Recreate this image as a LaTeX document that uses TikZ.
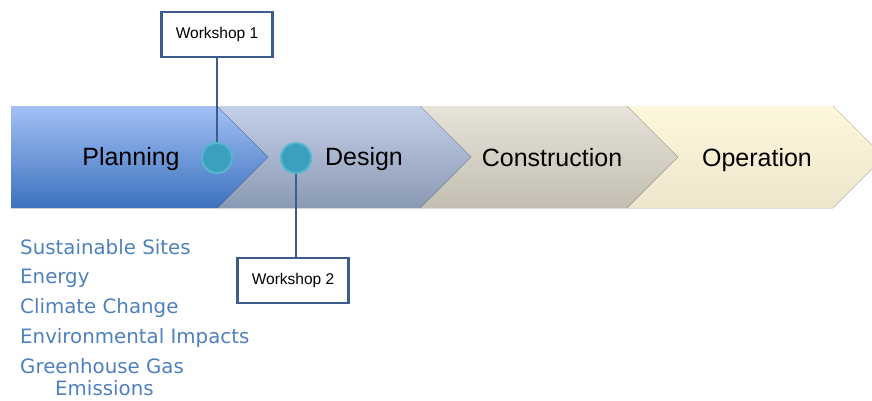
\documentclass[tikz,border=0pt]{standalone}
\usepackage{fontspec}
\setmainfont{Liberation Sans}
\newfontfamily\listfont{DejaVu Sans}
\definecolor{pTop}{HTML}{A2C0F5}
\definecolor{pBot}{HTML}{3D72BE}
\definecolor{dTop}{HTML}{C4D0E9}
\definecolor{dBot}{HTML}{8A99B3}
\definecolor{cTop}{HTML}{E7E3D9}
\definecolor{cBot}{HTML}{C3BEB1}
\definecolor{oTop}{HTML}{FDF7DC}
\definecolor{oBot}{HTML}{EEE6CC}
\definecolor{dotFill}{HTML}{3AA0BE}
\definecolor{dotRim}{HTML}{55B6CC}
\definecolor{lineBlue}{HTML}{3A5D8C}
\definecolor{listBlue}{HTML}{4F81BD}
\tikzset{
  stagelabel/.style={anchor=base, font=\fontsize{25}{30}\selectfont, text=black, inner sep=0pt},
  wsbox/.style={draw=lineBlue, line width=2.6pt, fill=white, minimum width=111pt, minimum height=45pt, inner sep=0pt, font=\fontsize{15.5}{18}\selectfont},
  dot/.style={circle, fill=dotFill, draw=dotRim, line width=2pt, minimum size=30pt, inner sep=0pt},
  link/.style={draw=lineBlue, line width=2.6pt},
  listitem/.style={anchor=base west, inner sep=0pt, text=listBlue, font=\listfont\fontsize{19.8}{22}\selectfont}
}
\begin{document}
\begin{tikzpicture}[x=1pt,y=-1pt]
\useasboundingbox (0,0) rectangle (872,400);
\begin{scope}
\clip (0,0) rectangle (872,400);
% chevrons
\fill[top color=oTop, bottom color=oBot] (627,106) -- (833,106) -- (884,157) -- (833,208) -- (627,208) -- (678,157) -- cycle;
\fill[top color=cTop, bottom color=cBot] (420,106) -- (627,106) -- (678,157) -- (627,208) -- (420,208) -- (471,157) -- cycle;
\fill[top color=dTop, bottom color=dBot] (217,106) -- (420,106) -- (471,157) -- (420,208) -- (217,208) -- (268,157) -- cycle;
\fill[top color=pTop, bottom color=pBot] (11,106) -- (217,106) -- (268,157) -- (217,208) -- (11,208) -- cycle;
\end{scope}
% stage labels
\node[stagelabel] (plan) at (131,165) {Planning};
\node[stagelabel] (des) at (364,165) {Design};
\node[stagelabel] (con) at (552,166) {Construction};
\node[stagelabel] (op) at (757,166) {Operation};
% workshops and markers
\node[wsbox] (w1) at (217,34.5) {Workshop 1};
\node[wsbox] (w2) at (293,280.5) {Workshop 2};
\node[dot] (c1) at (217,158) {};
\node[dot] (c2) at (296,158) {};
\draw[link] (w1.south) -- (c1.north);
\draw[link] (c2.south) -- (c2.south |- w2.north);
% list
\node[listitem] (l1) at (20,254) {Sustainable Sites};
\node[listitem] (l2) at (20,283) {Energy};
\node[listitem] (l3) at (20,313) {Climate Change};
\node[listitem] (l4) at (20,343) {Environmental Impacts};
\node[listitem] (l5) at (20,373) {Greenhouse Gas};
\node[listitem] (l6) at (55,395) {Emissions};
\end{tikzpicture}
\end{document}
